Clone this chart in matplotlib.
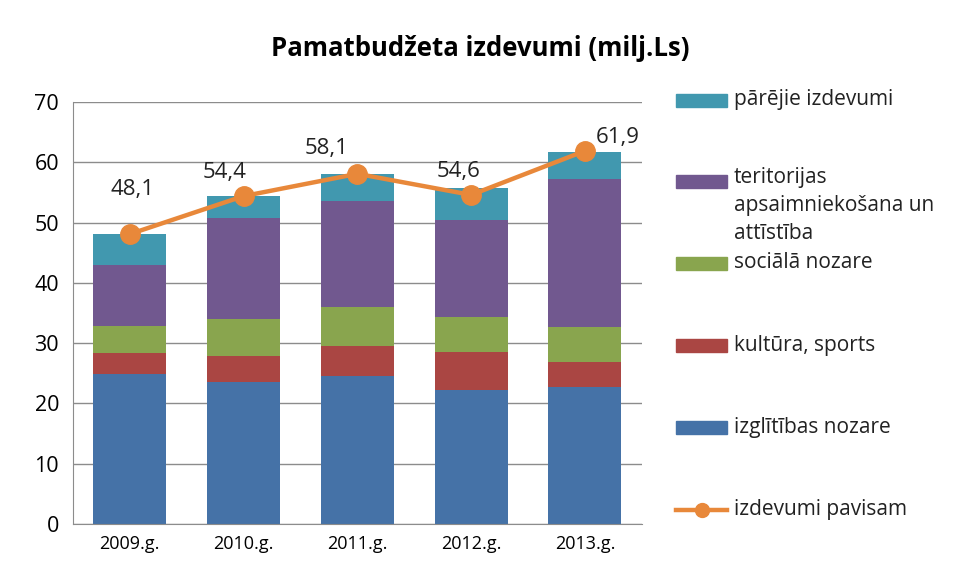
import matplotlib.pyplot as plt
from matplotlib.patches import Rectangle
from matplotlib.lines import Line2D
import numpy as np

plt.rcParams['font.family'] = ['Open Sans', 'DejaVu Sans']

years = ["2009.g.", "2010.g.", "2011.g.", "2012.g.", "2013.g."]

# segmenti no apakšas uz augšu (milj. Ls)
izglitiba = [24.9, 23.5, 24.6, 22.2, 22.8]
kultura = [3.5, 4.3, 5.0, 6.4, 4.1]
sociala = [4.45, 6.2, 6.4, 5.8, 5.8]
teritorijas = [10.05, 16.8, 17.6, 16.0, 24.5]
parejie = [5.2, 3.6, 4.5, 5.3, 4.6]
pavisam = [48.1, 54.4, 58.1, 54.6, 61.9]
pavisam_txt = ["48,1", "54,4", "58,1", "54,6", "61,9"]

series = [izglitiba, kultura, sociala, teritorijas, parejie]
names = ["izglītības nozare", "kultūra, sports", "sociālā nozare",
         "teritorijas\napsaimniekošana un\nattīstība", "pārējie izdevumi"]
colors = ["#4572A7", "#AA4643", "#89A54E", "#71588F", "#4198AF"]
line_color = "#E8883A"

fig = plt.figure(figsize=(9.55, 5.8), dpi=100)
ax = fig.add_axes([0.0764, 0.0966, 0.5956, 0.7274])

x = np.arange(len(years))
bottom = np.zeros(len(years))
for vals, c in zip(series, colors):
    ax.bar(x, vals, 0.64, bottom=bottom, color=c, zorder=2)
    bottom += np.array(vals)

ax.plot(x, pavisam, color=line_color, lw=3.2, marker='o', ms=14, zorder=3)

# datu etiķetes
offsets = [(2, 32), (-14, 17), (-22, 18), (-9, 17), (24, 10)]
for xi, v, t, off in zip(x, pavisam, pavisam_txt, offsets):
    ax.annotate(t, (xi, v), xytext=off, textcoords='offset points',
                ha='center', va='center', fontsize=16, color='#222222')

ax.set_xlim(-0.5, 4.5)
ax.set_ylim(0, 70)
ax.set_yticks(range(0, 71, 10))
ax.set_xticks(x)
ax.set_xticklabels(years, fontsize=13)
ax.tick_params(axis='y', labelsize=15.5, length=0, pad=10)
ax.tick_params(axis='x', length=0, pad=8)
ax.grid(axis='y', color='#8c8c8c', lw=1, zorder=0)
for s in ['top', 'right']:
    ax.spines[s].set_visible(False)
for s in ['left', 'bottom']:
    ax.spines[s].set_color('#8c8c8c')

fig.text(0.503, 0.917, "Pamatbudžeta izdevumi (milj.Ls)", ha='center',
         va='center', fontsize=18.5, fontweight='bold')

# leģenda (pašzīmēta)
W, H = 955.0, 580.0
leg_y = [100, 181, 263, 345, 427]
for nm, c, yy in zip(names[::-1], colors[::-1], leg_y):
    fig.patches.append(Rectangle((676 / W, (H - yy - 6.5) / H), 51 / W, 13 / H,
                                 color=c, transform=fig.transFigure))
    if '\n' in nm:
        fig.text(734 / W, (H - yy + 14) / H, nm, ha='left', va='top',
                 fontsize=15, color='#222222', linespacing=1.45)
    else:
        fig.text(734 / W, (H - yy) / H, nm, ha='left', va='center',
                 fontsize=15, color='#222222')
fig.lines.append(Line2D([676 / W, 727 / W], [(H - 510) / H] * 2, color=line_color,
                        lw=3.2, transform=fig.transFigure))
fig.lines.append(Line2D([701.5 / W], [(H - 510) / H], color=line_color,
                        marker='o', ms=10, transform=fig.transFigure))
fig.text(734 / W, (H - 510) / H, "izdevumi pavisam", ha='left', va='center',
         fontsize=15, color='#222222')

fig.savefig("out.png", dpi=100)
